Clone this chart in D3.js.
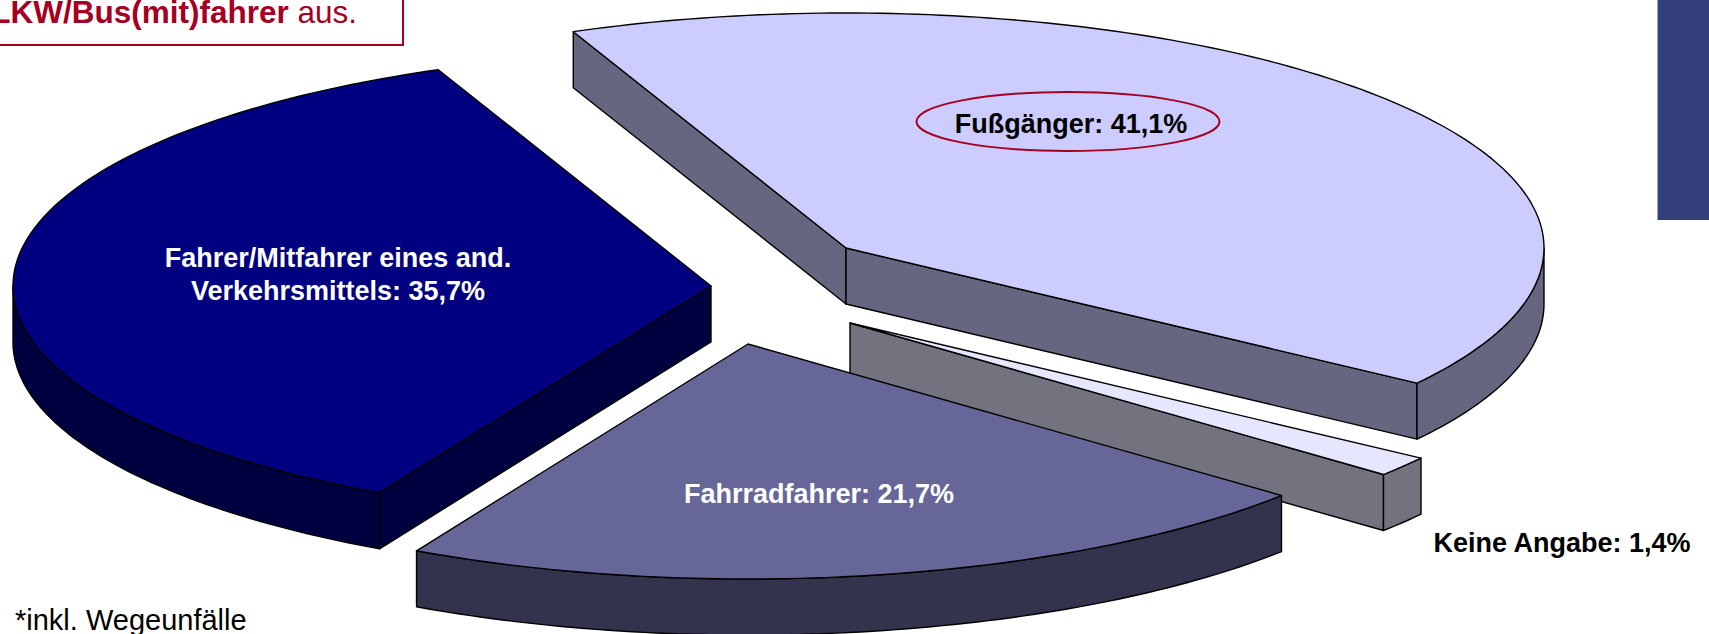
<!DOCTYPE html>
<html>
<head>
<meta charset="utf-8">
<script src="https://cdn.jsdelivr.net/npm/d3@7/dist/d3.min.js"></script>
<style>
  html, body { margin: 0; padding: 0; background: #ffffff; }
  svg { display: block; }
  text { font-family: "Liberation Sans", Arial, sans-serif; }
</style>
</head>
<body>
<svg id="chart" width="1709" height="634"></svg>
<script>
// ---- data ----
const categories = ["Fußgänger", "Keine Angabe", "Fahrradfahrer", "Fahrer/Mitfahrer eines and. Verkehrsmittels"];
const categoryLines = [["Fußgänger"], ["Keine Angabe"], ["Fahrradfahrer"], ["Fahrer/Mitfahrer eines and.", "Verkehrsmittels"]];
const values = [41.1, 1.4, 21.7, 35.7];
const footnote = "*inkl. Wegeunfälle";
const boxBold = "LKW/Bus(mit)fahrer";
const boxRegular = " aus.";

// ---- style / layout ----
const topColors  = ["#CCCCFF", "#E6E6FF", "#666699", "#000080"];
const sideColors = ["#666680", "#737380", "#33334D", "#000040"];
const labelColors = ["#000000", "#000000", "#ffffff", "#ffffff"];
const explode = [[60, -37], [64, 38], [-38, 59], [-75, 1]];   // offset of each slice's apex from pie centre
const labelPos = [[1071, 133], [1562, 552], [819, 503], [338, 267]]; // anchor of first label line (baseline)
const paintOrder = [0, 3, 1, 2];
const cx = 786, cy = 285, rx = 698, ry = 235, depth = 56;
const startDeg = -23;
const darkRed = "#A50021";

const svg = d3.select("#chart");
const fmt = v => d3.format(".1f")(v).replace(".", ",") + "%";

const start = startDeg * Math.PI / 180;
const arcs = d3.pie().sort(null).value(d => d).startAngle(start).endAngle(start + 2 * Math.PI)(values);

const pt = t => [rx * Math.sin(t), -ry * Math.cos(t)];
function arcPts(a0, a1) {
  const n = Math.max(2, Math.ceil(Math.abs(a1 - a0) / (Math.PI / 180)));
  return d3.range(n + 1).map(i => pt(a0 + (a1 - a0) * i / n));
}
const line = d3.line();

const pieG = svg.append("g");
paintOrder.forEach(i => {
  const a = arcs[i];
  const [ox, oy] = explode[i];
  const g = pieG.append("g").attr("transform", `translate(${cx + ox},${cy + oy})`);
  const faceStyle = sel => sel.attr("fill", sideColors[i]).attr("stroke", "#000")
    .attr("stroke-width", 1.4).attr("stroke-linejoin", "round");

  // radial side faces
  if (Math.sin(a.startAngle) < 0) {
    const p = pt(a.startAngle);
    g.append("path").attr("d", line([[0, 0], p, [p[0], p[1] + depth], [0, depth]]) + "Z").call(faceStyle);
  }
  if (Math.sin(a.endAngle) > 0) {
    const p = pt(a.endAngle);
    g.append("path").attr("d", line([[0, 0], p, [p[0], p[1] + depth], [0, depth]]) + "Z").call(faceStyle);
  }
  // outer (front) rim
  const f0 = Math.max(a.startAngle, Math.PI / 2), f1 = Math.min(a.endAngle, 3 * Math.PI / 2);
  if (f1 > f0) {
    const topRim = arcPts(f0, f1);
    const botRim = topRim.map(p => [p[0], p[1] + depth]).reverse();
    g.append("path").attr("d", line(topRim.concat(botRim)) + "Z").call(faceStyle);
  }
  // top face
  const topPts = [[0, 0]].concat(arcPts(a.startAngle, a.endAngle));
  g.append("path").attr("d", line(topPts) + "Z")
    .attr("fill", topColors[i]).attr("stroke", "#000").attr("stroke-width", 1.4).attr("stroke-linejoin", "round");
});

// ---- labels ----
const labG = svg.append("g");
categories.forEach((c, i) => {
  const lines = categoryLines[i].slice();
  lines[lines.length - 1] = lines[lines.length - 1] + ": " + fmt(values[i]);
  const t = labG.append("text")
    .attr("x", labelPos[i][0]).attr("y", labelPos[i][1])
    .attr("text-anchor", "middle")
    .attr("font-size", 27).attr("font-weight", "bold")
    .attr("fill", labelColors[i]);
  lines.forEach((l, k) => {
    t.append("tspan").attr("x", labelPos[i][0]).attr("dy", k === 0 ? 0 : 33).text(l);
  });
});

// highlight ellipse around Fußgänger label
labG.append("ellipse").attr("cx", 1068).attr("cy", 121.5).attr("rx", 151.5).attr("ry", 29.5)
  .attr("fill", "none").attr("stroke", darkRed).attr("stroke-width", 2);

// ---- text box (top-left, partly cropped) ----
svg.append("rect").attr("x", -10).attr("y", -10).attr("width", 413).attr("height", 55)
  .attr("fill", "#fff").attr("stroke", darkRed).attr("stroke-width", 2);
const bt = svg.append("text").attr("x", 357).attr("y", 23).attr("text-anchor", "end")
  .attr("font-size", 31.5).attr("fill", darkRed);
bt.append("tspan").attr("font-weight", "bold").text(boxBold);
bt.append("tspan").text(boxRegular);

// ---- footnote ----
svg.append("text").attr("x", 15).attr("y", 630).attr("font-size", 29).attr("fill", "#000").text(footnote);

// ---- decorative bar on the right ----
svg.append("rect").attr("x", 1657).attr("y", 0).attr("width", 60).attr("height", 220).attr("fill", "#333F7B");
svg.append("line").attr("x1", 1657.5).attr("x2", 1657.5).attr("y1", 0).attr("y2", 220)
  .attr("stroke", "#9C9CC8").attr("stroke-width", 1);
</script>
</body>
</html>
